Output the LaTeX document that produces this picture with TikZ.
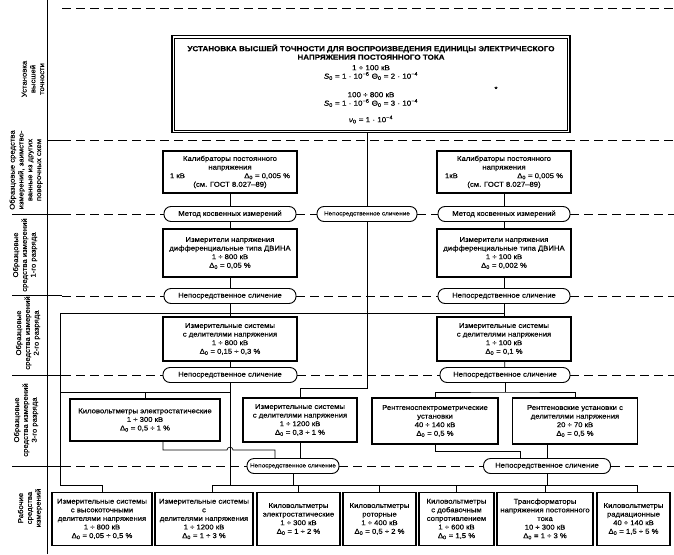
\documentclass[tikz,border=0pt]{standalone}
\usepackage{fontspec}
\setmainfont[FakeStretch=1.1, FakeBold=0.35]{Liberation Sans}
\usetikzlibrary{positioning,calc}
\newcommand\dz{Δ\textsubscript{0}}

\begin{document}
\begin{tikzpicture}[x=1pt, y=-1pt,
    box/.style={draw, line width=1.1pt, align=center, inner sep=1pt, minimum width=#1, font=\fontsize{7}{8.6}\selectfont},
    oval/.style={draw, line width=0.9pt, rounded corners=7pt, minimum width=#1, minimum height=15pt, inner sep=1pt, font=\fontsize{7}{8}\selectfont},
    small/.style={font=\fontsize{5.8}{6}\selectfont},
    link/.style={line width=0.7pt},
    sep/.style={line width=0.6pt, dash pattern=on 9pt off 5pt},
    lbl/.style={rotate=90, align=center, font=\fontsize{7}{8.8}\selectfont}
]
    \useasboundingbox (0,0) rectangle (674,554);

    % Left column: levels of the scheme
    \draw[link] (47,0) -- (47,554);
    \foreach \y/\a in {140/47, 214/12, 295/12, 375/12, 466/12}
        \draw[link] (\a,\y) -- (62,\y);
    \node[lbl] (lv1) at (33,79) {Установка\\высшей\\точности};
    \node[lbl] (lv2) at (26,170) {Образцовые средства\\измерений, заимство-\\ванные из других\\поверочных схем};
    \node[lbl] (lv3) at (25,255) {Образцовые\\средства измерений\\1-го разряда};
    \node[lbl] (lv4) at (28,333) {Образцовые\\средства измерений\\2-го разряда};
    \node[lbl] (lv5) at (26,420) {Образцовые\\средства измерений\\3-го разряда};
    \node[lbl] (lv6) at (30,508) {Рабочие\\средства\\измерений};

    % Top level: the standard
    \node[draw, line width=1.3pt, minimum width=398pt, minimum height=97pt, align=center,
          font=\fontsize{7.3}{8.5}\selectfont] (top) at (371,84)
        {\textbf{УСТАНОВКА ВЫСШЕЙ ТОЧНОСТИ ДЛЯ ВОСПРОИЗВЕДЕНИЯ ЕДИНИЦЫ ЭЛЕКТРИЧЕСКОГО}\\
         \textbf{НАПРЯЖЕНИЯ ПОСТОЯННОГО ТОКА}\\[2pt]
         1 ÷ 100 кВ\\
         \textit{S}\textsubscript{0} = 1 · 10\textsuperscript{−6} Θ\textsubscript{0} = 2 · 10\textsuperscript{−4}\\[10pt]
         100 ÷ 800 кВ\\
         \textit{S}\textsubscript{0} = 1 · 10\textsuperscript{−6} Θ\textsubscript{0} = 3 · 10\textsuperscript{−4}\\[8pt]
         \textit{ν}\textsubscript{0} = 1 · 10\textsuperscript{−4}};
    \draw[line width=0.5pt] ([shift={(3,3)}]top.north west) rectangle ([shift={(-3,-3)}]top.south east);
    \node[font=\fontsize{7}{7}\selectfont, inner sep=0pt] (ast) at (496,89) {*};

    % Band separators
    \draw[sep] (62,8) -- (674,8);
    \draw[sep] (62,140) -- (674,140);

    % Borrowed standards
    \node[box=134, minimum height=42pt] (calL) at (230,172)
        {Калибраторы постоянного\\напряжения\\\makebox[120pt]{1 кВ\hfill\dz{} = 0,005 \%}\\(см. ГОСТ 8.027–89)};
    \node[box=134, minimum height=42pt] (calR) at (504,172)
        {Калибраторы постоянного\\напряжения\\\makebox[118pt]{1кВ\hfill\dz{} = 0,005 \%}\\(см. ГОСТ 8.027–89)};
    \node[oval=132] (ov2L) at (230,214) {Метод косвенных измерений};
    \node[oval=100, small] (ov2C) at (367,214) {Непосредственное сличение};
    \node[oval=132] (ov2R) at (504,214) {Метод косвенных измерений};
    \draw[sep] (62,214) -- (ov2L) (ov2L) -- (ov2C) (ov2C) -- (ov2R) (ov2R) -- (674,214);

    % 1st rank
    \node[box=134, minimum height=48pt] (dvL) at (230,253)
        {Измерители напряжения\\дифференциальные типа ДВИНА\\1 ÷ 800 кВ\\\dz{} = 0,05 \%};
    \node[box=134, minimum height=48pt] (dvR) at (504,253)
        {Измерители напряжения\\дифференциальные типа ДВИНА\\1 ÷ 100 кВ\\\dz{} = 0,002 \%};
    \node[oval=132] (ov3L) at (230,296) {Непосредственное сличение};
    \node[oval=132] (ov3R) at (504,296) {Непосредственное сличение};
    \draw[sep] (62,296) -- (ov3L) (ov3L) -- (ov3R) (ov3R) -- (674,296);

    % 2nd rank
    \node[box=134, minimum height=44pt] (msL) at (230,339)
        {Измерительные системы\\с делителями напряжения\\1 ÷ 800 кВ\\\dz{} = 0,15 ÷ 0,3 \%};
    \node[box=134, minimum height=44pt] (msR) at (504,339)
        {Измерительные системы\\с делителями напряжения\\1 ÷ 100 кВ\\\dz{} = 0,1 \%};
    \node[oval=134] (ov4L) at (230,375) {Непосредственное сличение};
    \node[oval=130] (ov4R) at (505,375) {Непосредственное сличение};
    \draw[sep] (62,375) -- (ov4L) (ov4L) -- (ov4R) (ov4R) -- (674,375);

    % 3rd rank
    \node[box=150, minimum height=42pt] (kvE) at (145,420)
        {Киловольтметры электростатические\\1 ÷ 300 кВ\\\dz{} = 0,5 ÷ 1 \%};
    \node[box=114, minimum height=44pt] (ms3) at (300,420)
        {Измерительные системы\\с делителями напряжения\\1 ÷ 1200 кВ\\\dz{} = 0,3 ÷ 1 \%};
    \node[box=126, minimum height=46pt] (xrS) at (435,421)
        {Рентгеноспектрометрические\\установки\\40 ÷ 140 кВ\\\dz{} = 0,5 \%};
    \node[box=125, minimum height=46pt] (xrD) at (575,421)
        {Рентгеновские установки с\\делителями напряжения\\20 ÷ 70 кВ\\\dz{} = 0,5 \%};
    \node[oval=92, small] (ov5L) at (293,466) {Непосредственное сличение};
    \node[oval=127] (ov5R) at (547,466) {Непосредственное сличение};
    \draw[sep] (62,466) -- (ov5L) (ov5L) -- (ov5R) (ov5R) -- (674,466);

    % Working instruments
    \node[box=100, minimum height=53pt] (b1) at (102,519)
        {Измерительные системы\\с высокоточными\\делителями напряжения\\1 ÷ 800 кВ\\\dz{} = 0,05 ÷ 0,5 \%};
    \node[box=98, minimum height=53pt] (b2) at (204,519)
        {Измерительные системы\\с\\делителями напряжения\\1 ÷ 1200 кВ\\\dz{} = 1 ÷ 3 \%};
    \node[box=83, minimum height=53pt] (b3) at (298.5,519)
        {Киловольтметры\\электростатические\\1 ÷ 300 кВ\\\dz{} = 1 ÷ 2 \%};
    \node[box=73, minimum height=53pt] (b4) at (379.5,519)
        {Киловольтметры\\роторные\\1 ÷ 400 кВ\\\dz{} = 0,5 ÷ 2 \%};
    \node[box=75, minimum height=53pt] (b5) at (456.5,519)
        {Киловольтметры\\с добавочным\\сопротивлением\\1 ÷ 600 кВ\\\dz{} = 1,5 \%};
    \node[box=96, minimum height=53pt] (b6) at (545,519)
        {Трансформаторы\\напряжения постоянного\\тока\\10 ÷ 300 кВ\\\dz{} = 1 ÷ 3 \%};
    \node[box=73, minimum height=53pt] (b7) at (633.5,519)
        {Киловольтметры\\радиационные\\40 ÷ 140 кВ\\\dz{} = 1,5 ÷ 5 \%};

    % junction points
    \coordinate (jc) at (367,388);
    \coordinate (j2) at (60,313);
    \coordinate (jb1) at (60,485);
    \coordinate (j4L) at (230,392);
    \coordinate (j5L) at (163,450);
    \coordinate (j4R) at (505,392);
    \coordinate (jbot) at (212,485);
    \coordinate (jbotR) at (637,485);

    % vertical chains
    \draw[link] (top.south -| ov2C) -- (ov2C);
    \draw[link] (ov2C.south) -- (jc) -| (ms3.north);
    \draw[link] (calL) -- (ov2L);
    \draw[link] (ov2L) -- (dvL);
    \draw[link] (dvL) -- (ov3L);
    \draw[link] (ov3L) -- (msL);
    \draw[link] (msL) -- (ov4L);
    \draw[link] (calR) -- (ov2R);
    \draw[link] (ov2R) -- (dvR);
    \draw[link] (dvR) -- (ov3R);
    \draw[link] (ov3R) -- (msR);
    \draw[link] (msR) -- (ov4R);

    % left branches
    \draw[link] (j2) -- (ov3R |- j2);
    \draw[link] (j2) -- (jb1) -| (b1.north);
    \draw[link] (ov4L.south) -- (j4L);
    \draw[link] (j2 |- j4L) -- (j4L);
    \draw[link] (kvE.north) -- (kvE.north |- j4L);
    \draw[link] (j4L) -- (j4L |- jbot);
    \draw[link] ([xshift=18pt]kvE.south) -- (j5L) -- (227,450)
        to[out=90, in=90, looseness=1.6] (233,450) -| ([xshift=-18pt]ov5L.north);
    \draw[link] (ms3.south) -- (ms3.south |- ov5L.north);

    % right branches
    \draw[link] (ov4R.south) -- (j4R);
    \draw[link] (xrS.north) |- (j4R) -| (xrD.north);
    \draw[link] (xrS.south) -- ++(0,7) -| ([xshift=-27pt]ov5R.north);
    \draw[link] (ov5R.north) -- (ov5R.north |- xrD.south);

    % working level bus
    \draw[link] (jbot) -- (jbotR);
    \draw[link] (jbot) -- (jbot |- b2.north);
    \foreach \b in {b3,b4,b5,b6}
        \draw[link] (\b.north) -- (\b.north |- jbot);
    \draw[link] (jbotR) -- (jbotR |- b7.north);
    \draw[link] (ov5L.south) -- (ov5L.south |- jbot);
    \draw[link] (ov5R.south) -- (ov5R.south |- jbot);
\end{tikzpicture}
\end{document}
